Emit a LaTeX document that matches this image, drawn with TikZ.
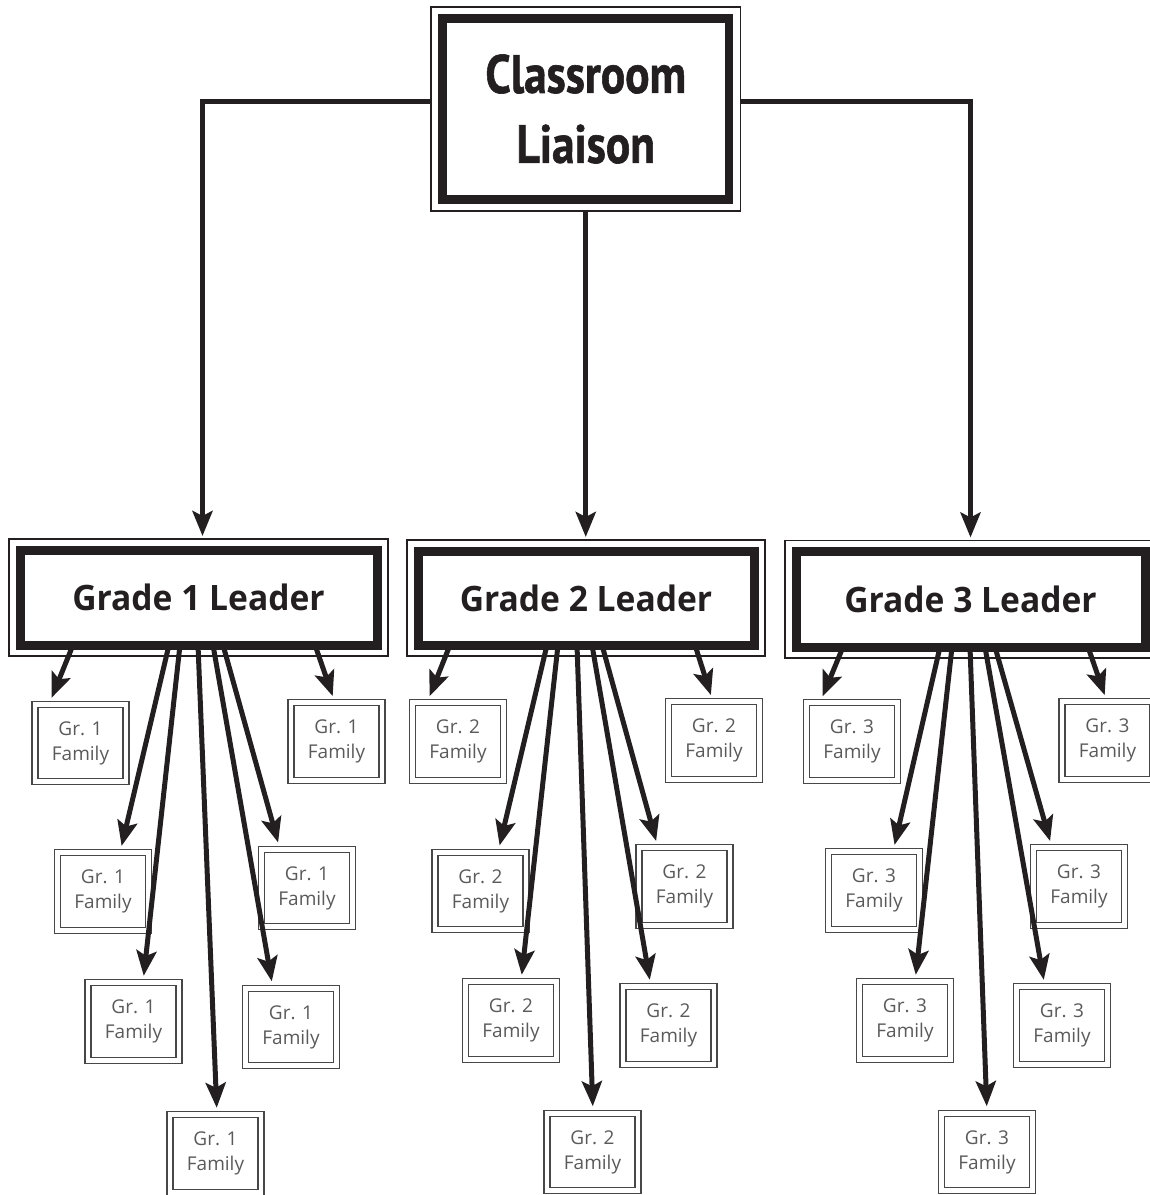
\documentclass[tikz,border=0pt]{standalone}
\usepackage{fontspec}
\usetikzlibrary{arrows.meta,fit,calc}
\newfontfamily\titlefont{PT Sans}[BoldFeatures={FakeBold=1.2}]
\newfontfamily\leadfont{Open Sans}
\newfontfamily\famfont{Open Sans}
\definecolor{ink}{HTML}{231F20}
\definecolor{famline}{HTML}{474747}
\definecolor{famtext}{HTML}{5A5A5A}
\newcommand{\toptext}[1]{\scalebox{0.84}[1]{#1}}
\newcommand{\leadtext}[1]{\scalebox{0.96}[1]{#1}}
\begin{document}
\begin{tikzpicture}[x=1pt,y=-1pt,
  thickbox/.style={draw=ink, line width=9pt, inner sep=0pt, outer sep=0pt},
  thinframe/.style={draw=ink, line width=1.5pt, outer sep=0pt},
  fam/.style={draw=famline, double=white, double distance=4.7pt, line width=1.3pt,
    minimum width=91pt, minimum height=77.5pt, inner sep=0pt, outer sep=0pt,
    align=center, text=famtext, font=\famfont\fontsize{19}{25}\selectfont},
  link/.style={draw=ink, line width=5pt,
    -{Stealth[length=25pt,width=20pt,inset=5pt]}},
  toplink/.style={link, shorten >=3pt},
  famlink/.style={link, shorten >=7pt}]
\useasboundingbox (0,0) rectangle (1150,1195);
\clip (0,0) rectangle (1150,1195);

% top box
\node[thickbox, line width=8.5pt, minimum width=286.5pt, minimum height=181pt,
  align=center, font=\titlefont\bfseries\fontsize{54}{70}\selectfont, text=ink]
  (top) at (585.75,109) {\toptext{Classroom}\\\toptext{Liaison}};
\node[thinframe, fit=(top), inner sep=11.5pt] (topout) {};

% grade leaders
\node[thickbox, minimum width=357pt, minimum height=95pt,
  font=\leadfont\bfseries\fontsize{35}{40}\selectfont, text=ink]
  (g1) at (198.5,597.5) {\leadtext{Grade 1 Leader}};
\node[thinframe, fit=(g1), inner sep=11pt] (g1out) {};
\node[thickbox, minimum width=336pt, minimum height=94pt,
  font=\leadfont\bfseries\fontsize{35}{40}\selectfont, text=ink]
  (g2) at (586,598) {\leadtext{Grade 2 Leader}};
\node[thinframe, fit=(g2), inner sep=11pt] (g2out) {};
\node[thickbox, minimum width=349pt, minimum height=95.5pt,
  font=\leadfont\bfseries\fontsize{35}{40}\selectfont, text=ink]
  (g3) at (970.5,599.25) {\leadtext{Grade 3 Leader}};
\node[thinframe, fit=(g3), inner sep=11pt] (g3out) {};

% families grade 1
\node[fam] (f1a) at (80.5,743) {Gr. 1\\Family};
\node[fam] (f1b) at (336.5,741.5) {Gr. 1\\Family};
\node[fam] (f1c) at (103,891.5) {Gr. 1\\Family};
\node[fam] (f1d) at (307,888) {Gr. 1\\Family};
\node[fam] (f1e) at (133.5,1021.5) {Gr. 1\\Family};
\node[fam] (f1f) at (291,1027) {Gr. 1\\Family};
\node[fam] (f1g) at (215.5,1153.5) {Gr. 1\\Family};
% families grade 2
\node[fam] (f2a) at (458,741.5) {Gr. 2\\Family};
\node[fam] (f2b) at (714,740.5) {Gr. 2\\Family};
\node[fam] (f2c) at (480.5,891) {Gr. 2\\Family};
\node[fam] (f2d) at (684.5,886.5) {Gr. 2\\Family};
\node[fam] (f2e) at (511,1020.5) {Gr. 2\\Family};
\node[fam] (f2f) at (668.5,1025.5) {Gr. 2\\Family};
\node[fam] (f2g) at (592.5,1152) {Gr. 2\\Family};
% families grade 3
\node[fam] (f3a) at (852,741.5) {Gr. 3\\Family};
\node[fam] (f3b) at (1107.5,740.5) {Gr. 3\\Family};
\node[fam] (f3c) at (874,890.5) {Gr. 3\\Family};
\node[fam] (f3d) at (1079,886.5) {Gr. 3\\Family};
\node[fam] (f3e) at (905,1020.5) {Gr. 3\\Family};
\node[fam] (f3f) at (1062,1025.5) {Gr. 3\\Family};
\node[fam] (f3g) at (987,1152) {Gr. 3\\Family};

% main connectors
\draw[toplink] ([yshift=8pt]topout.west) -| ([xshift=4pt]g1out.north);
\draw[toplink] ([yshift=8pt]topout.east) -| (g3out.north);
\draw[toplink] (topout.south) -- (topout.south |- g2out.north);

% grade 1 connectors
\draw[famlink] (g1.south -| 73,0) -- (f1a.north -| 49,0);
\draw[famlink] (g1.south -| 315,0) -- (f1b.north -| 335,0);
\draw[famlink] (g1.south -| 169,0) -- (f1c.north -| 120,0);
\draw[famlink] (g1.south -| 180,0) -- (f1e.north -| 143,0);
\draw[famlink] (g1.south -| 198,0) -- (f1g.north -| 217,0);
\draw[famlink] (g1.south -| 213,0) -- (f1f.north -| 273,0);
\draw[famlink] (g1.south -| 223,0) -- (f1d.north -| 280,0);
% grade 2 connectors
\draw[famlink] (g2.south -| 450,0) -- (f2a.north -| 427,0);
\draw[famlink] (g2.south -| 695,0) -- (f2b.north -| 713,0);
\draw[famlink] (g2.south -| 547,0) -- (f2c.north -| 498,0);
\draw[famlink] (g2.south -| 558,0) -- (f2e.north -| 521,0);
\draw[famlink] (g2.south -| 577,0) -- (f2g.north -| 593,0);
\draw[famlink] (g2.south -| 592,0) -- (f2f.north -| 651,0);
\draw[famlink] (g2.south -| 602,0) -- (f2d.north -| 658,0);
% grade 3 connectors
\draw[famlink] (g3.south -| 843,0) -- (f3a.north -| 820,0);
\draw[famlink] (g3.south -| 1088,0) -- (f3b.north -| 1107,0);
\draw[famlink] (g3.south -| 940,0) -- (f3c.north -| 893,0);
\draw[famlink] (g3.south -| 952,0) -- (f3e.north -| 915,0);
\draw[famlink] (g3.south -| 970,0) -- (f3g.north -| 987,0);
\draw[famlink] (g3.south -| 985,0) -- (f3f.north -| 1045,0);
\draw[famlink] (g3.south -| 995,0) -- (f3d.north -| 1052,0);
\end{tikzpicture}
\end{document}
